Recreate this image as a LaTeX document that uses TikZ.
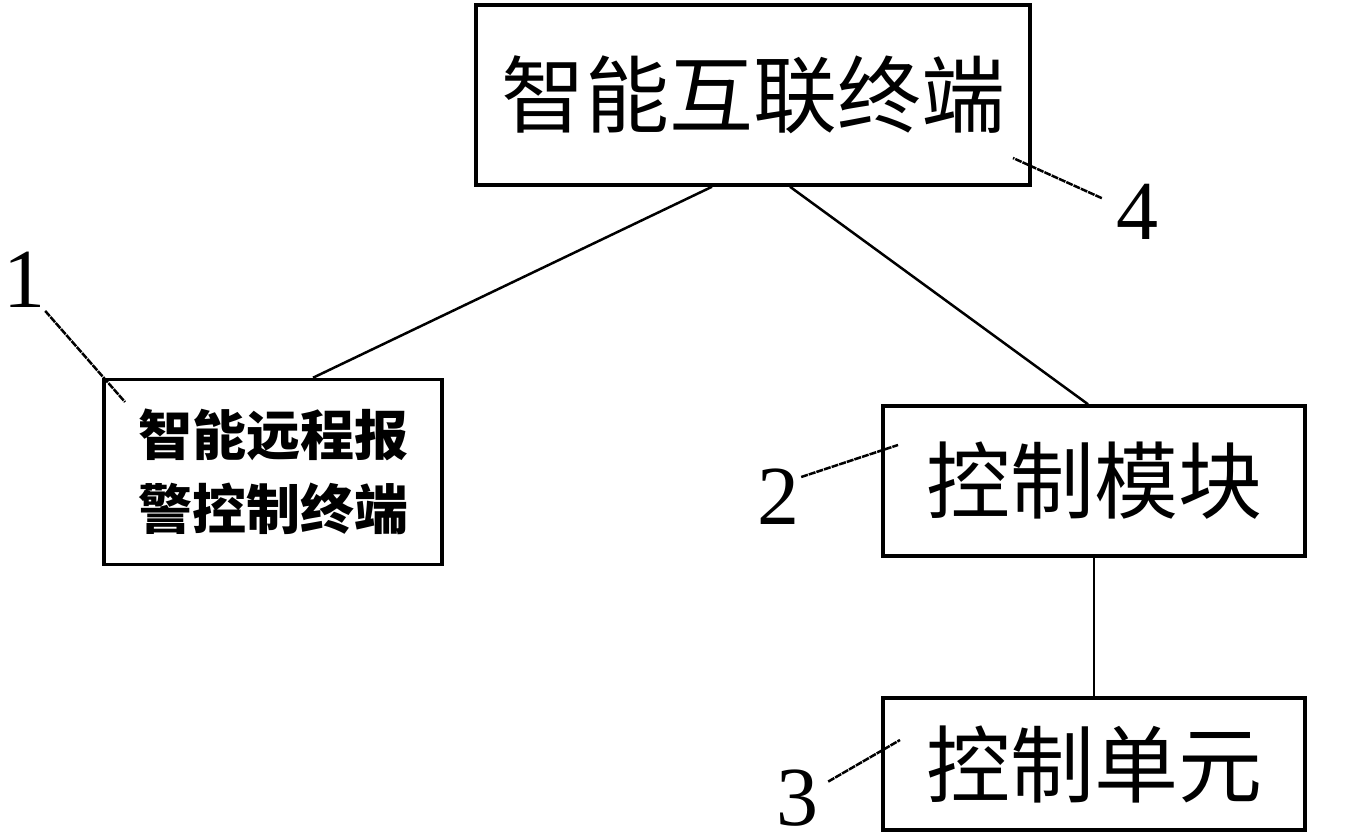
\documentclass[tikz,border=0pt]{standalone}
\usepackage{fontspec}
\newfontfamily\cjk{Noto Sans CJK SC}
\newfontfamily\numfont{Liberation Serif}
\usetikzlibrary{positioning}
\tikzset{
  box/.style={draw,line width=3.5pt,inner sep=0pt,font=\cjk\fontsize{84}{90}\selectfont},
  tag/.style={inner sep=0pt,font=\numfont\fontsize{84}{84}\selectfont},
  link/.style={line width=2.5pt},
  leader/.style={line width=2.5pt,dash pattern=on 7pt off 1pt}
}
\begin{document}
\begin{tikzpicture}[x=1pt,y=-1pt]
\useasboundingbox (0,0) rectangle (1346,837);
\node[box,minimum width=554pt,minimum height=180pt] (hub) at (753,95) {智能互联终端};
\node[box,minimum width=338pt,minimum height=185pt,align=center,font=\cjk\bfseries\fontsize{54}{74}\selectfont] (alarm) at (273,472) {智能远程报\\警控制终端};
\node[box,minimum width=422pt,minimum height=150pt] (module) at (1094,481) {控制模块};
\node[box,minimum width=422pt,minimum height=132pt] (unit) at (1094,764) {控制单元};
\node[tag] (n1) at (24,280) {1};
\node[tag] (n2) at (778,497) {2};
\node[tag] (n3) at (797,798) {3};
\node[tag] (n4) at (1137,212) {4};
\coordinate (p1) at (125,402);
\coordinate (p2) at (898,445);
\coordinate (p3) at (900,740);
\coordinate (p4) at (1013,158);
\draw[link] ([xshift=-41pt]hub.south) -- ([xshift=40pt]alarm.north);
\draw[link] ([xshift=37pt]hub.south) -- ([xshift=-6pt]module.north);
\draw[link] (module.south) -- (unit.north);
\draw[leader] ([xshift=0pt,yshift=-3pt]n1.south east) -- (p1);
\draw[leader] ([xshift=2pt,yshift=-8pt]n2.north east) -- (p2);
\draw[leader] ([xshift=10pt,yshift=-12pt]n3.north east) -- (p3);
\draw[leader] ([xshift=-14pt,yshift=-14pt]n4.north west) -- (p4);
\end{tikzpicture}
\end{document}
